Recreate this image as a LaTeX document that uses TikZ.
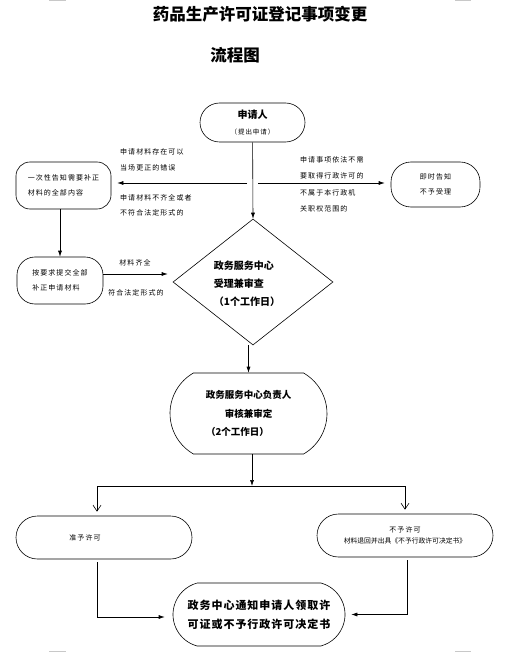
\documentclass[tikz,border=0pt]{standalone}
\usepackage{fontspec}
\usepackage{tikz}
\newfontfamily\cjk{Noto Sans CJK SC}
\newfontfamily\cjkwide[LetterSpace=15]{Noto Sans CJK SC}
\newfontfamily\cjkbold[LetterSpace=9]{Noto Sans CJK SC}
\definecolor{markgray}{RGB}{200,200,200}
\usetikzlibrary{shapes.geometric,shapes.misc,arrows.meta}

\tikzset{
	flowbox/.style={
		draw=black,            % black border
		line width=0.6pt,      % thin outline
		rounded rectangle,     % round ends
		inner sep=0pt,         % padding
		align=center,
		font=\cjkwide\fontsize{7}{15}\selectfont
	},
	cornerbox/.style={
		draw=black,
		line width=0.6pt,
		rectangle,
		rounded corners=14pt,  % softer corners
		inner sep=0pt,
		align=left,
		font=\cjkwide\fontsize{7}{15}\selectfont
	},
	note/.style={anchor=west, inner sep=0pt, align=left, font=\cjkwide\fontsize{7}{15.5}\selectfont},
	arr/.style={line width=0.6pt, -{Latex[length=6pt,width=4pt]}},
	barb/.style={line width=0.6pt, -{Straight Barb[length=6pt,width=8pt]}}
}

\begin{document}
\begin{tikzpicture}[x=1pt,y=-1pt]
	\useasboundingbox (0,0) rectangle (520,652);
	% page corner marks
	\draw[markgray, line width=1.5pt] (49,0.5) -- (66,0.5) (455,0.5) -- (471,0.5)
		(49,651.5) -- (66,651.5) (455,651.5) -- (471,651.5);

	% titles
	\node[font=\cjk\bfseries\fontsize{16.5}{20}\selectfont] (title) at (260,14) {药品生产许可证登记事项变更};
	\node[font=\cjk\bfseries\fontsize{16.5}{20}\selectfont] (subtitle) at (235,55) {流程图};

	% boxes
	\node[flowbox, minimum width=105pt, minimum height=39pt] (applicant) at (252.5,122.5)
		{{\cjk\bfseries\fontsize{10}{12}\selectfont 申请人}\\[1pt]{\fontsize{6.5}{8}\selectfont （提出申请）}};
	\node[cornerbox, minimum width=95pt, minimum height=47pt] (notice) at (63.5,185.5)
		{一次性告知需要补正\\材料的全部内容};
	\node[cornerbox, rounded corners=20pt, align=center, minimum width=89pt, minimum height=45pt] (reject) at (435.5,184.5)
		{即时告知\\不予受理};
	\node[cornerbox, rounded corners=18pt, minimum width=86pt, minimum height=47pt] (resubmit) at (60,280.5)
		{按要求提交全部\\补正申请材料};
	\node[draw, diamond, line width=0.6pt, inner sep=0pt, minimum width=160pt, minimum height=126pt] (accept) at (253,282) {};
	\node[font=\cjk\bfseries\fontsize{10}{18}\selectfont, align=left] (accepttext) at (247,284)
		{政务服务中心\\受理兼审查\\ （1个工作日）};
	\node[flowbox, rounded rectangle arc length=120, minimum width=157pt, minimum height=81pt,
		font=\cjk\bfseries\fontsize{9.5}{18.5}\selectfont] (review) at (248.5,413.5)
		{政务服务中心负责人\\审核兼审定\hspace*{20pt}\\（2个工作日）\hspace*{22pt}};
	\node[flowbox, minimum width=176pt, minimum height=43pt] (grant) at (104,537.5)
		{准予许可\hspace*{38pt}};
	\node[flowbox, minimum width=176pt, minimum height=43pt] (deny) at (405,535.5)
		{不予许可\\[-4pt]{\cjk\fontsize{6.8}{8}\selectfont 材料退回并出具《不予行政许可决定书》}};
	\node[flowbox, rounded rectangle arc length=150, minimum width=172pt, minimum height=63pt, align=left,
		font=\cjkbold\bfseries\fontsize{11}{19}\selectfont] (final) at (259,614.5)
		{政务中心通知申请人领取许\\可证或不予行政许可决定书};

	% branch labels
	\node[note] (fixlabel) at (120,160) {申请材料存在可以\\当场更正的错误};
	\node[note] (lacklabel) at (120,205.5) {申请材料不齐全或者\\不符合法定形式的};
	\node[note] (needlabel) at (300,168) {申请事项依法不需\\要取得行政许可的};
	\node[note] (outlabel) at (300,201) {不属于本行政机\\关职权范围的};
	\node[note, anchor=center] (fulllabel) at (135,263) {材料齐全};
	\node[note, anchor=center] (formlabel) at (136,293) {符合法定形式的};

	% connectors
	\coordinate (fork) at (253,183);
	\coordinate (gate) at ([yshift=6.5pt]resubmit.east);
	\coordinate (split) at (252,486);
	\coordinate (lt) at (97,486);
	\coordinate (rt) at (405,486);
	\draw[arr] (applicant) -- (accept.north);
	\draw[arr, shorten >=6pt] ([xshift=-6pt]fork) -- (fork -| notice.east);
	\draw[arr, shorten >=6pt] ([xshift=5pt]fork) -- (fork -| reject.west);
	\draw[arr] (resubmit.north |- notice.south) -- (resubmit.north);
	\draw[arr, shorten >=5pt] (gate) -- (gate -| accept.west);
	\draw[arr] (accept.south -| review.north) -- (review.north);
	\draw[arr] (split |- review.south) -- (split);
	\draw[line width=0.6pt] (lt) -- (rt);
	\draw[barb, shorten >=4pt] (lt) -- (lt |- grant.north);
	\draw[barb, shorten >=4pt] (rt) -- (rt |- deny.north);
	\draw[arr, shorten <=3pt, shorten >=8pt] (lt |- grant.south) |- ([yshift=-2.5pt]final.west);
	\draw[arr, shorten <=3pt, shorten >=6pt] ([xshift=2pt]rt |- deny.south) |- (final.east);
\end{tikzpicture}
\end{document}
